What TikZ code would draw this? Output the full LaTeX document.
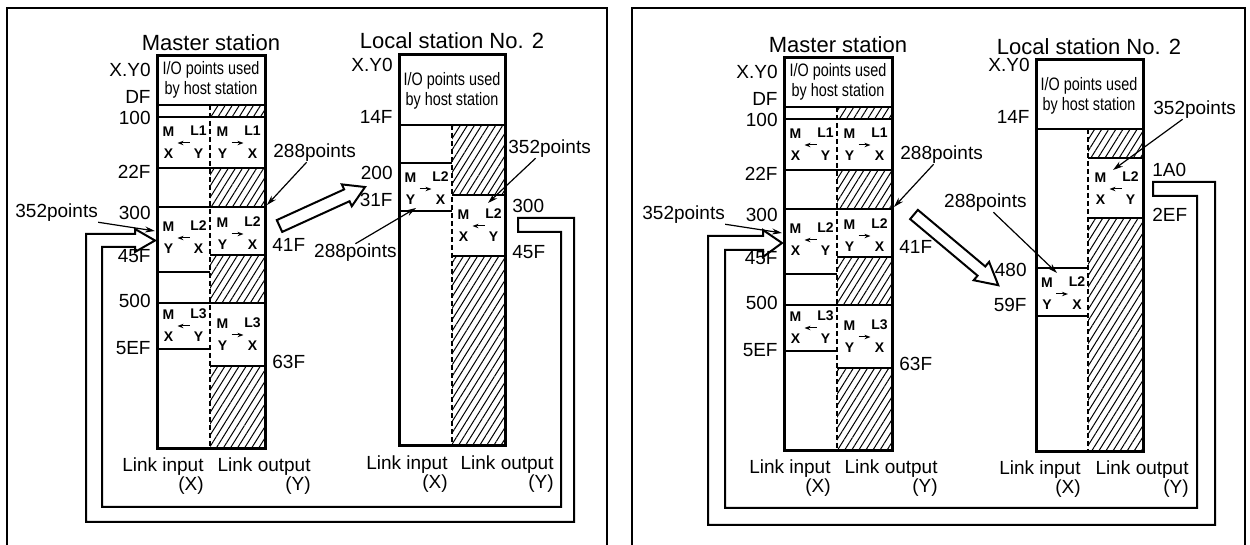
\documentclass[tikz,border=0pt]{standalone}
\usepackage{fontspec}
\setmainfont{Liberation Sans}
\newfontfamily\narrowfont[FakeStretch=0.8]{Liberation Sans}
\usetikzlibrary{arrows.meta, patterns.meta}

\tikzset{
  lbl/.style={font=\fontsize{9.5}{9.5}\selectfont, inner sep=0pt},
  ttl/.style={font=\fontsize{11}{11}\selectfont, inner sep=0pt},
  hdr/.style={font=\narrowfont\fontsize{9}{10}\selectfont, align=center, inner sep=0pt},
  cellf/.style={font=\fontsize{7}{7}\selectfont\bfseries, inner sep=0pt},
  cellarr/.style={line width=0.5pt, -{Stealth[length=3pt, width=2.2pt]}},
  ptr/.style={line width=0.6pt, -{Stealth[length=5pt, width=3pt]}},
  hatch/.style={pattern={Lines[angle=58, distance=3pt, line width=0.5pt]}},
  row/.style={line width=0.7pt},
  divider/.style={line width=0.6pt, dash pattern=on 2.5pt off 1.5pt},
  col/.style={line width=1.5pt},
  frame/.style={line width=1pt},
  loop/.style={line width=1pt, line join=miter},
  bigarr/.style={line width=1pt, fill=white, line join=miter}
}

% one link cell: name, x, y, label, arrow direction, lower left, lower right
\newcommand{\iocell}[7]{%
  \node[cellf] (#1-m) at ({#2-15},{#3-11}) {M};
  \node[cellf] (#1-l) at ({#2+15},{#3-12}) {#4};
  \node[cellf] (#1-a) at ({#2-15},{#3+11}) {#6};
  \node[cellf] (#1-b) at ({#2+15},{#3+11}) {#7};
  \draw[cellarr] ({#2-6*(#5)},#3) -- ({#2+6*(#5)},#3);
}

% master station column, #1 #2 = lower letters of the L2 input cell
\newcommand{\masterstation}[2]{%
  \fill[hatch] (210,105) rectangle (265,117);
  \fill[hatch] (210,168) rectangle (265,207);
  \fill[hatch] (210,255) rectangle (265,303);
  \fill[hatch] (210,366) rectangle (265,449);
  \draw[row] (157,105) -- (265,105) (157,117) -- (265,117)
    (157,168) -- (265,168) (157,207) -- (265,207)
    (210,255) -- (265,255) (157,272) -- (210,272)
    (157,303) -- (265,303) (157,349) -- (210,349) (210,366) -- (265,366);
  \draw[divider] (210,105) -- (210,449);
  \draw[col] (157,56) rectangle (265,449);
  \node[ttl] (title) at (211,43) {Master station};
  \node[hdr] (host) at (211,80) {I/O points used\\by host station};
  \node[lbl, anchor=east] (a0) at (151,70) {X.Y0};
  \node[lbl, anchor=east] (adf) at (151,97) {DF};
  \node[lbl, anchor=east] (a100) at (151,118) {100};
  \node[lbl, anchor=east] (a22f) at (151,172) {22F};
  \node[lbl, anchor=east] (a300) at (151,213) {300};
  \node[lbl, anchor=east] (a45f) at (151,256) {45F};
  \node[lbl, anchor=east] (a500) at (151,301) {500};
  \node[lbl, anchor=east] (a5ef) at (151,348) {5EF};
  \node[lbl, anchor=west] (a41f) at (272,245) {41F};
  \node[lbl, anchor=west] (a63f) at (272,362) {63F};
  \iocell{l1x}{183.5}{143}{L1}{-1}{X}{Y}
  \iocell{l1y}{237.5}{143}{L1}{1}{Y}{X}
  \iocell{l2x}{183.5}{238}{L2}{-1}{#1}{#2}
  \iocell{l2y}{237.5}{234}{L2}{1}{Y}{X}
  \iocell{l3x}{183.5}{326}{L3}{-1}{X}{Y}
  \iocell{l3y}{237.5}{335}{L3}{1}{Y}{X}
  \node[lbl, anchor=west] (p288) at (273,153) {288points};
  \coordinate (p288-tip) at (267,205);
  \draw[ptr] ([xshift=-4pt]p288.south) -- (p288-tip);
  \node[lbl, anchor=west] (p352) at (15,213) {352points};
  \coordinate (p352-tip) at (155,231);
  \draw[ptr] (p352.south east) -- (p352-tip);
  \node[lbl, align=right, anchor=east] (linx) at (204,476) {Link input\\(X)};
  \node[lbl, align=right, anchor=east] (louty) at (311,476) {Link output\\(Y)};
}

\begin{document}
\begin{tikzpicture}[x=0.5pt, y=-0.5pt]
  \useasboundingbox (0,0) rectangle (1250,545);
  % panel frames
  \draw[frame] (7,545) -- (7,8) -- (607,8) -- (607,545);
  \draw[frame] (632,545) -- (632,8) -- (1245,8) -- (1245,545);

  % left panel: master station
  \begin{scope}[name prefix=ml-]
    \masterstation{Y}{X}
  \end{scope}

  % left panel: local station No. 2
  \fill[hatch] (452,125) rectangle (505,195);
  \fill[hatch] (452,256) rectangle (505,446);
  \draw[row] (399,125) -- (505,125) (399,163) -- (452,163) (399,211) -- (452,211)
    (452,195) -- (505,195) (452,256) -- (505,256);
  \draw[divider] (452,125) -- (452,446);
  \draw[col] (399,55) rectangle (505,446);
  \node[ttl] (ll-title) at (452,41) {Local station No. 2};
  \node[hdr] (ll-host) at (452,91) {I/O points used\\by host station};
  \node[lbl, anchor=east] (ll-a0) at (393,65) {X.Y0};
  \node[lbl, anchor=east] (ll-a14f) at (393,117) {14F};
  \node[lbl, anchor=east] (ll-a200) at (393,173) {200};
  \node[lbl, anchor=east] (ll-a31f) at (393,200) {31F};
  \node[lbl, anchor=west] (ll-a300) at (512,206) {300};
  \node[lbl, anchor=west] (ll-a45f) at (512,252) {45F};
  \iocell{ll-l2y}{425.5}{189}{L2}{1}{Y}{X}
  \iocell{ll-l2x}{478.5}{226}{L2}{-1}{X}{Y}
  \node[lbl, anchor=west] (ll-p352) at (508,149) {352points};
  \coordinate (ll-p352-tip) at (488,203);
  \draw[ptr] ([xshift=-7pt]ll-p352.south) -- (ll-p352-tip);
  \node[lbl, anchor=east] (ll-p288) at (397,253) {288points};
  \coordinate (ll-p288-tip) at (416,208);
  \draw[ptr] (ll-p288.north) -- (ll-p288-tip);
  \node[lbl, align=right, anchor=east] (ll-linx) at (448,474) {Link input\\(X)};
  \node[lbl, align=right, anchor=east] (ll-louty) at (554,474) {Link output\\(Y)};

  % left panel: transfer and return
  \coordinate (ml-flow) at (279.5,226);
  \draw[bigarr, shift={(ml-flow)}, rotate=24.5] (0,-6.5) -- (74,-6.5) -- (74,-12)
    -- (94,0) -- (74,12) -- (74,6.5) -- (0,6.5) -- cycle;
  \draw[loop] (518,218) -- (574,218) -- (574,522) -- (86,522) -- (86,234)
    -- (135,234) -- (135,229) -- (155,240.5) -- (135,252) -- (135,247)
    -- (102,247) -- (102,507) -- (561,507) -- (561,232) -- (518,232) -- cycle;

  % right panel: master station
  \begin{scope}[shift={(627,2)}, name prefix=mr-]
    \masterstation{X}{Y}
  \end{scope}

  % right panel: local station No. 2
  \fill[hatch] (1088,129) rectangle (1143,158);
  \fill[hatch] (1088,218) rectangle (1143,452);
  \draw[row] (1036,129) -- (1143,129) (1088,158) -- (1143,158) (1088,218) -- (1143,218)
    (1036,268) -- (1088,268) (1036,316) -- (1088,316);
  \draw[divider] (1088,129) -- (1088,452);
  \draw[col] (1036,60) rectangle (1143,452);
  \node[ttl] (rl-title) at (1089,47) {Local station No. 2};
  \node[hdr] (rl-host) at (1089,96) {I/O points used\\by host station};
  \node[lbl, anchor=east] (rl-a0) at (1030,65) {X.Y0};
  \node[lbl, anchor=east] (rl-a14f) at (1030,117) {14F};
  \node[lbl, anchor=west] (rl-a1a0) at (1152,170) {1A0};
  \node[lbl, anchor=west] (rl-a2ef) at (1152,215) {2EF};
  \node[lbl, anchor=east] (rl-a480) at (1027,270) {480};
  \node[lbl, anchor=east] (rl-a59f) at (1027,305) {59F};
  \iocell{rl-l2x}{1115.5}{189}{L2}{-1}{X}{Y}
  \iocell{rl-l2y}{1062}{294}{L2}{1}{Y}{X}
  \node[lbl, anchor=west] (rl-p352) at (1153,110) {352points};
  \coordinate (rl-p352-tip) at (1113,170);
  \draw[ptr] ([xshift=-6pt]rl-p352.south) -- (rl-p352-tip);
  \node[lbl, anchor=east] (rl-p288) at (1027,203) {288points};
  \coordinate (rl-p288-tip) at (1057,273);
  \draw[ptr] ([xshift=4pt]rl-p288.south) -- (rl-p288-tip);
  \node[lbl, align=right, anchor=east] (rl-linx) at (1081,479) {Link input\\(X)};
  \node[lbl, align=right, anchor=east] (rl-louty) at (1189,479) {Link output\\(Y)};

  % right panel: transfer and return
  \coordinate (mr-flow) at (914,214.5);
  \draw[bigarr, shift={(mr-flow)}, rotate=-40] (0,-6) -- (88,-6) -- (88,-12)
    -- (110,0) -- (88,12) -- (88,6) -- (0,6) -- cycle;
  \draw[loop] (1153,182) -- (1215,182) -- (1215,525) -- (708,525) -- (708,236)
    -- (763,236) -- (763,230) -- (782,243) -- (763,257) -- (763,250)
    -- (725,250) -- (725,508) -- (1197,508) -- (1197,196) -- (1153,196) -- cycle;
\end{tikzpicture}
\end{document}
